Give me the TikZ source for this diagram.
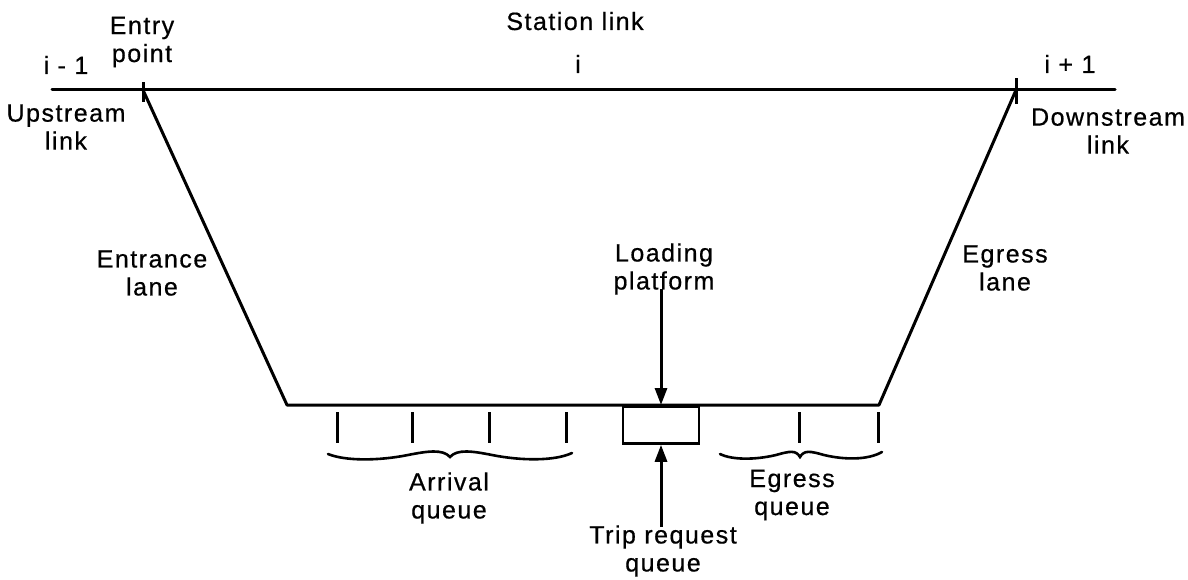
\documentclass[tikz,border=0pt]{standalone}
\usepackage{fontspec}
\setmainfont{Liberation Sans}[LetterSpace=6, FakeBold=0.6]
\usetikzlibrary{arrows.meta}
\tikzset{
  road/.style={line width=3pt, line cap=round, line join=round},
  mark tick/.style={line width=3pt},
  lbl/.style={align=center, inner sep=2pt, font=\fontsize{25}{28}\selectfont},
  pointer/.style={line width=3pt, -{Triangle[length=17pt,width=12pt]}},
  brace line/.style={line width=2.6pt, line cap=round},
}
\begin{document}
\begin{tikzpicture}[x=1pt,y=-1pt]
\useasboundingbox (0,0) rectangle (1188,580);

% main link and station trapezoid
\coordinate (west) at (52,90);
\coordinate (east) at (1115,90);
\coordinate (entry) at (143,90);
\coordinate (exit) at (1016,90);
\coordinate (bl) at (287,405);
\coordinate (br) at (879,405);
\draw[road] (west) -- (east);
\draw[road] (entry) -- (bl) -- (br) -- (exit);

% entry and exit ticks on the link
\draw[mark tick] ([yshift=-12pt]entry) -- ([yshift=8pt]entry);
\draw[mark tick] ([yshift=-14pt]exit) -- ([yshift=12pt]exit);

% queue position ticks
\foreach \x [count=\k] in {337,412,489,566,799,878}
  \draw[mark tick] (\x,412) coordinate (q\k a) -- (\x,443) coordinate (q\k b);

% loading platform box
\node[draw, line width=2.8pt, minimum width=76pt, minimum height=37pt,
      anchor=north, inner sep=0pt] (box) at (661,405) {};

% braces under the queues
\draw[brace line] (328,454) .. controls (345,461) and (378,461) .. (408,455)
  .. controls (428,451) and (443,449) .. (450,457)
  .. controls (457,449) and (472,451) .. (492,455)
  .. controls (522,461) and (555,461) .. (572,453);
\draw[brace line] (720,454) .. controls (732,460) and (755,460) .. (776,455)
  .. controls (790,451) and (796,450) .. (800,457)
  .. controls (804,450) and (810,451) .. (824,455)
  .. controls (845,460) and (868,460) .. (882,452);

% labels
\node[lbl, anchor=base] (stn) at (575,30) {Station link};
\node[lbl, anchor=base] (iprev) at (66,74) {i - 1};
\node[lbl, anchor=base] (icur) at (578,73) {i};
\node[lbl, anchor=base] (inext) at (1070,73) {i + 1};
\node[lbl] (entrylbl) at (142,42) {Entry\\point};
\node[lbl] (up) at (66,127) {Upstream\\link};
\node[lbl] (down) at (1108,131) {Downstream\\link};
\node[lbl] (entlane) at (152,273) {Entrance\\lane};
\node[lbl] (egrlane) at (1005,268) {Egress\\lane};
\node[lbl] (load) at (664,269) {Loading\\platform};
\node[lbl] (arr) at (449,498) {Arrival\\queue};
\node[lbl] (trip) at (663,551) {Trip request\\queue};
\node[lbl] (egq) at (792,495) {Egress\\queue};

% pointers to the platform
\draw[pointer] (load.south -| box.north) ++(0,8pt) -- (box.north);
\draw[pointer] (trip.north -| box.south) ++(0,-4pt) -- (box.south);
\end{tikzpicture}
\end{document}
